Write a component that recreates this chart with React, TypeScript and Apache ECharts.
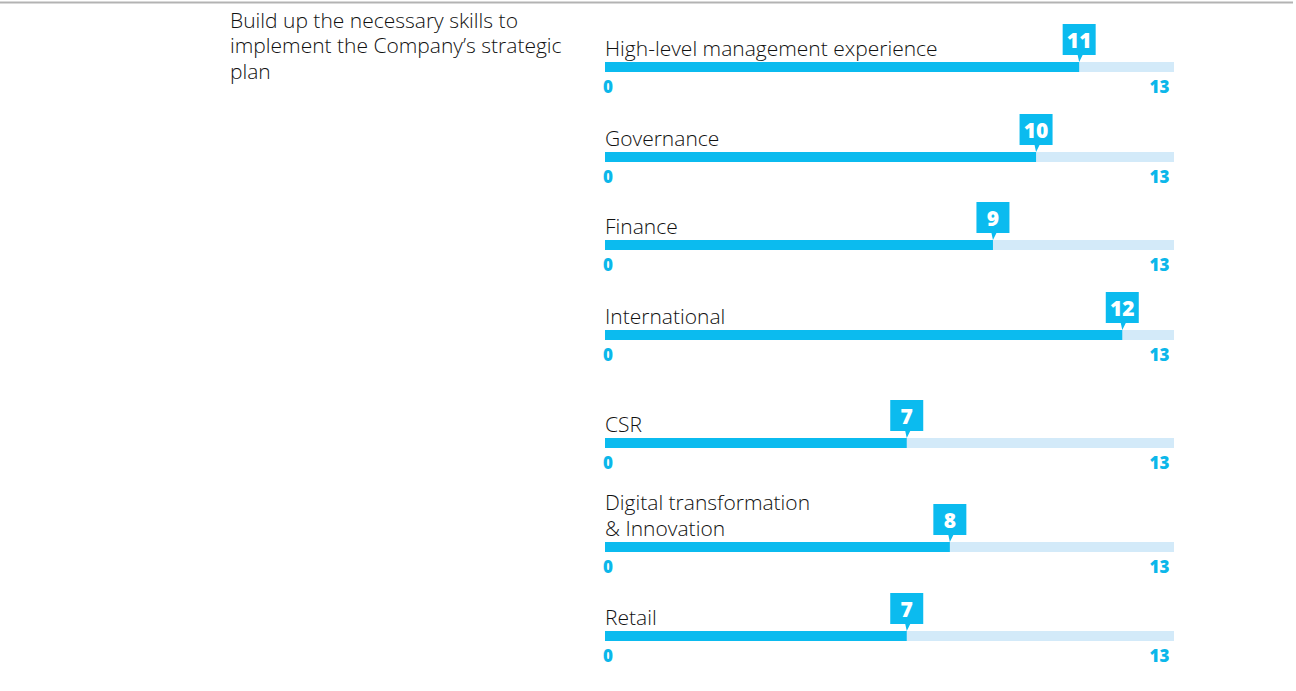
import React, { useEffect, useRef } from "react";
import * as echarts from "echarts";

const categories = [
  "High-level management experience",
  "Governance",
  "Finance",
  "International",
  "CSR",
  "Digital transformation\n& Innovation",
  "Retail",
];
const values = [11, 10, 9, 12, 7, 8, 7];
const scaleMin = 0;
const scaleMax = 13;
const tickLabels = [0, 13];
const introText = "Build up the necessary skills to\nimplement the Company\u2019s strategic\nplan";

// layout (page pixels)
const barTops = [62, 152, 240, 330, 438, 542, 631];
const BAR_LEFT = 605;
const BAR_WIDTH = 569;
const BAR_H = 10;
const AXIS_EXTENT = 13.2; // track runs slightly past the 13 tick

const CYAN = "#0bbbef";
const TRACK = "#d3eaf9";
const FONT = "'Open Sans', 'DejaVu Sans', sans-serif";
const TEXT = "#111111";

const pinPath = "path://M0 0H33V31H20L16.5 38L15 31H0Z";

export default function App() {
  const ref = useRef<HTMLDivElement>(null);
  useEffect(() => {
    if (!ref.current) return;
    const chart = echarts.init(ref.current, null, { renderer: "svg" });
    const grids: any[] = [];
    const xAxes: any[] = [];
    const yAxes: any[] = [];
    const series: any[] = [];
    const graphics: any[] = [];

    graphics.push({
      type: "line",
      shape: { x1: 0, y1: 2.5, x2: 1293, y2: 2.5 },
      style: { stroke: "#b3b3b3", lineWidth: 2 },
    });
    graphics.push({
      type: "text",
      x: 230,
      y: 7,
      style: {
        text: introText,
        font: `300 21px ${FONT}`,
        fill: TEXT,
        lineHeight: 25.5,
        textVerticalAlign: "top",
      },
    });

    categories.forEach((cat, i) => {
      const top = barTops[i];
      grids.push({ left: BAR_LEFT, width: BAR_WIDTH, top, height: BAR_H });
      const lab = { color: "#0bb7ea", fontWeight: 800, fontSize: 17, fontFamily: FONT };
      xAxes.push({
        type: "value",
        gridIndex: i,
        min: scaleMin,
        max: AXIS_EXTENT,
        splitLine: { show: false },
        axisLine: { show: false },
        axisTick: { show: false },
        axisLabel: {
          customValues: tickLabels,
          ...lab,
          margin: 6,
          formatter: (v: number) => (v === scaleMax ? `{r|${v}}` : `{l|${v}}`),
          rich: {
            r: { ...lab, padding: [0, 12, 0, 0] },
            l: { ...lab, padding: [0, 0, 0, 6] },
          },
        },
      });
      yAxes.push({
        type: "category",
        gridIndex: i,
        data: [cat],
        show: false,
      });
      series.push({
        type: "bar",
        xAxisIndex: i,
        yAxisIndex: i,
        data: [values[i]],
        barWidth: BAR_H,
        itemStyle: { color: CYAN },
        showBackground: true,
        backgroundStyle: { color: TRACK },
        silent: true,
      });
      series.push({
        type: "scatter",
        xAxisIndex: i,
        yAxisIndex: i,
        data: [[values[i], 0]],
        symbol: pinPath,
        symbolSize: [33, 38],
        symbolOffset: [0, -24],
        itemStyle: { color: CYAN, opacity: 1 },
        z: 5,
        label: {
          show: true,
          position: "inside",
          offset: [0, -3.5],
          color: "#fff",
          fontWeight: 800,
          fontSize: 21,
          fontFamily: FONT,
          formatter: (p: any) => String(p.value[0]),
        },
        silent: true,
      });
      graphics.push({
        type: "text",
        x: BAR_LEFT,
        y: top - 1.5,
        style: {
          text: cat,
          font: `300 21px ${FONT}`,
          fill: TEXT,
          lineHeight: 26,
          textVerticalAlign: "bottom",
        },
      });
    });

    chart.setOption({
      animation: false,
      grid: grids,
      xAxis: xAxes,
      yAxis: yAxes,
      series,
      graphic: graphics,
    });
    return () => chart.dispose();
  }, []);
  return (
    <div
      ref={ref}
      style={{ position: "fixed", left: 0, top: 0, width: 1296, height: 691, background: "#fff" }}
    />
  );
}
